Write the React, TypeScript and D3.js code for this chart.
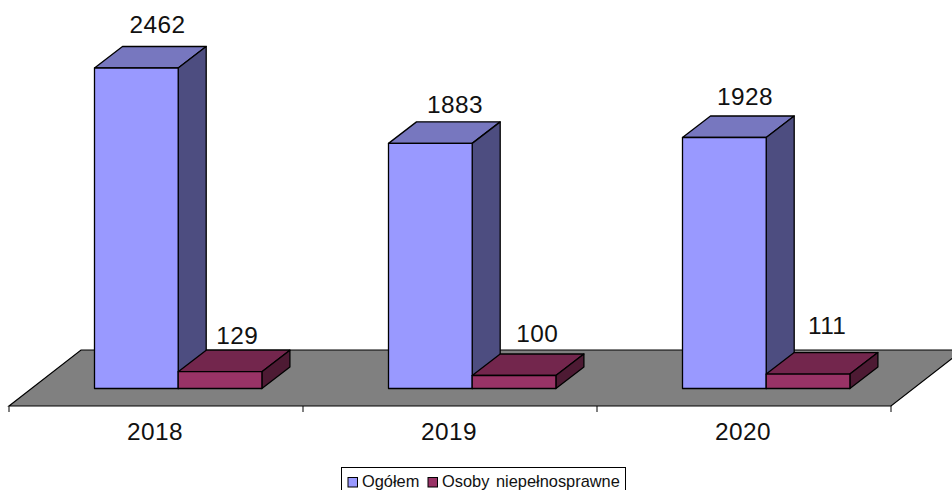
import React from "react";
import * as d3 from "d3";

const categories = ["2018", "2019", "2020"];
const ogolem = [2462, 1883, 1928];
const niepelnosprawne = [129, 100, 111];
const seriesNames = ["Ogółem", "Osoby niepełnosprawne"];

const W = 952, H = 490;
const dx = 28, dy = -21.5;
const x = d3.scaleBand<string>().domain(categories).range([9, 891]);
const y = d3.scaleLinear().domain([0, 2462]).range([388.5, 68]);
const floorFront = 406, floorBack = 350;
const floorDx = 72;
const barW = 83.7, barOff = 85.5;
const INK = "#000";
// label baselines and centres relative to the bar origin
const labelTall = [[63, 33], [66.5, 113], [62.5, 105]];
const labelShort = [[59, 344], [65, 342], [61, 334]];

function Box({ x0, w, v, front, top, side }: { x0: number; w: number; v: number; front: string; top: string; side: string }) {
  const t = y(v), b = y(0);
  const line = d3.line();
  const poly = (p: [number, number][]) => line(p)! + "Z";
  return (
    <g stroke={INK} strokeWidth={1.3} strokeLinejoin="round">
      <path d={poly([[x0, t], [x0 + dx, t + dy], [x0 + w + dx, t + dy], [x0 + w, t]])} fill={top} />
      <path d={poly([[x0 + w, t], [x0 + w + dx, t + dy], [x0 + w + dx, b + dy], [x0 + w, b]])} fill={side} />
      <path d={poly([[x0, t], [x0 + w, t], [x0 + w, b], [x0, b]])} fill={front} />
    </g>
  );
}

export default function App() {
  const font = "'Liberation Sans', Arial, sans-serif";
  const ticks = [...categories.map((c) => x(c)!), x.range()[1]];
  const big = { textAnchor: "middle", fontSize: 24.4, letterSpacing: 0.4, fill: "#111" } as const;
  return (
    <svg width={W} height={H} style={{ position: "absolute", left: 0, top: 0, background: "#fff" }} fontFamily={font}>
      <path
        d={`M${x.range()[0]},${floorFront}L${x.range()[0] + floorDx},${floorBack}L${x.range()[1] + floorDx},${floorBack}L${x.range()[1]},${floorFront}Z`}
        fill="#808080" stroke={INK} strokeWidth={1.2}
      />
      {ticks.map((t, i) => (
        <line key={i} x1={t} x2={t} y1={floorFront} y2={floorFront + 6} stroke={INK} strokeWidth={1} />
      ))}
      {categories.map((c, i) => {
        const x0 = x(c)! + barOff;
        return (
          <g key={c}>
            <Box x0={x0} w={barW} v={ogolem[i]} front="#9999FF" top="#7777BF" side="#4D4D80" />
            <Box x0={x0 + barW} w={barW} v={niepelnosprawne[i]} front="#993366" top="#73264D" side="#4D1A33" />
            <text x={x0 + labelTall[i][0]} y={labelTall[i][1]} {...big}>{ogolem[i]}</text>
            <text x={x0 + barW + labelShort[i][0]} y={labelShort[i][1]} {...big}>{niepelnosprawne[i]}</text>
            <text x={x(c)! + x.bandwidth() / 2 - 1} y={440} {...big}>{c}</text>
          </g>
        );
      })}
      <rect x={341.5} y={467.5} width={284} height={30} fill="#fff" stroke={INK} strokeWidth={1} />
      <rect x={348} y={477.5} width={9.5} height={9.5} fill="#9999FF" stroke={INK} strokeWidth={1} />
      <text x={362} y={487} fontSize={16.4} fill="#111">{seriesNames[0]}</text>
      <rect x={428} y={477.5} width={9.5} height={9.5} fill="#993366" stroke={INK} strokeWidth={1} />
      <text x={442} y={487} fontSize={16.4} fill="#111" wordSpacing={2}>{seriesNames[1]}</text>
    </svg>
  );
}
